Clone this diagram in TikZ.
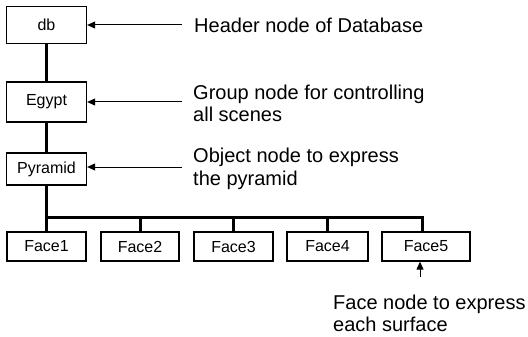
\documentclass[tikz,border=0pt]{standalone}
\usepackage{fontspec}
\setmainfont{Liberation Sans}
\usetikzlibrary{arrows.meta}
\begin{document}
\begin{tikzpicture}[x=1pt,y=-1pt,
  box/.style={draw=black,line width=1.3pt,inner sep=0pt,minimum width=80pt,font=\fontsize{16}{18}\selectfont},
  facebox/.style={box,minimum height=29pt},
  link/.style={line width=3pt},
  pointer/.style={line width=1pt,-{Triangle[length=8pt,width=7pt]}},
  note/.style={anchor=west,align=left,inner sep=0pt,font=\fontsize{20}{22.5}\selectfont}]
\useasboundingbox (0,0) rectangle (528,337);
% main nodes
\node[box,minimum height=37pt] (db) at (46.5,25) {db};
\node[box,minimum height=40pt] (egypt) at (46.5,102) {Egypt};
\node[box,minimum height=32pt] (pyr) at (46.5,169) {Pyramid};
\node[facebox,minimum width=79pt] (f1) at (46.5,246.5) {Face1};
\node[facebox,minimum width=78pt] (f2) at (140,246.5) {Face2};
\node[facebox,minimum width=79pt] (f3) at (233.5,246.5) {Face3};
\node[facebox,minimum width=81pt] (f4) at (327.5,246.5) {Face4};
\node[facebox,minimum width=88pt] (f5) at (426,246.5) {Face5};
% tree links
\coordinate (bar) at (46.5,217);
\coordinate (barend) at (422,217);
\draw[link] (db) -- (egypt);
\draw[link] (egypt) -- (pyr);
\draw[link] (pyr.south) -- (bar) -- (barend) -- (barend |- f5.north);
\draw[link] (bar) -- (f1.north);
\draw[link] (f2.north |- bar) -- (f2.north);
\draw[link] (f3.north |- bar) -- (f3.north);
\draw[link] (f4.north |- bar) -- (f4.north);
% annotations
\node[note] (t1) at (194,25) {Header node of Database};
\node[note] (t2) at (193,103.5) {Group node for controlling\\all scenes};
\node[note] (t3) at (193,169) {Object node to express\\the pyramid};
\node[note] (t4) at (333,313.5) {Face node to express\\each surface};
\coordinate (a1) at (182,25);
\coordinate (a2) at (182,102);
\coordinate (a3) at (182,167);
\coordinate (a4) at (420,277);
\draw[pointer] (a1) -- (a1 -| db.east);
\draw[pointer] (a2) -- (a2 -| egypt.east);
\draw[pointer] (a3) -- (a3 -| pyr.east);
\draw[pointer] (a4) -- (a4 |- f5.south);
\end{tikzpicture}
\end{document}
